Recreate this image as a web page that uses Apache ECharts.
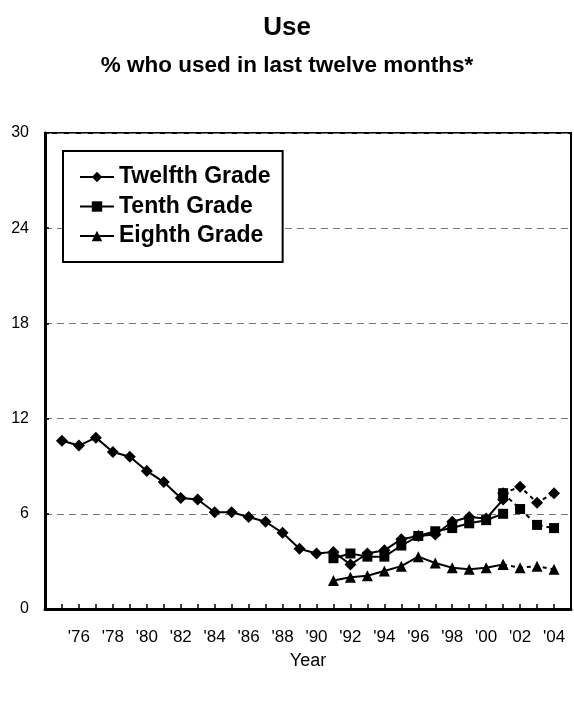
<!DOCTYPE html>
<html>
<head>
<meta charset="utf-8">
<script src="https://cdn.jsdelivr.net/npm/echarts@6/dist/echarts.min.js"></script>
<style>html,body{margin:0;padding:0;background:#fff}#c{width:574px;height:701px}</style>
</head>
<body>
<div id="c"></div>
<script>
const yearsMain = [1975,1976,1977,1978,1979,1980,1981,1982,1983,1984,1985,1986,1987,1988,1989,1990,1991,1992,1993,1994,1995,1996,1997,1998,1999,2000,2001];
const twelfthMain = [10.6,10.3,10.8,9.9,9.6,8.7,8.0,7.0,6.9,6.1,6.1,5.8,5.5,4.8,3.8,3.5,3.6,2.8,3.5,3.7,4.4,4.6,4.7,5.5,5.8,5.7,6.9];
const yearsLower = [1991,1992,1993,1994,1995,1996,1997,1998,1999,2000,2001];
const tenthMain = [3.2,3.5,3.3,3.3,4.0,4.6,4.9,5.1,5.4,5.6,6.0];
const eighthMain = [1.8,2.0,2.1,2.4,2.7,3.3,2.9,2.6,2.5,2.6,2.8];
const yearsRevised = [2001,2002,2003,2004];
const twelfthRevised = [7.3,7.7,6.7,7.3];
const tenthRevised = [7.3,6.3,5.3,5.1];
const eighthRevised = [2.8,2.6,2.7,2.5];
const yTicks = [0,6,12,18,24,30];

const pairs = (xs, ys) => xs.map((x, i) => [x, ys[i]]);
const chart = echarts.init(document.getElementById('c'));
const FONT = '"Liberation Sans", Arial, sans-serif';
function lineSeries(name, data, symbol, size, dashed) {
  return {
    name: name, type: 'line', data: data, symbol: symbol, symbolSize: size,
    lineStyle: {color: '#000', width: 2, type: dashed ? [4, 4] : 'solid'},
    itemStyle: {color: '#000'}, animation: false, z: dashed ? 3 : 4
  };
}
chart.setOption({
  animation: false,
  title: [
    {text: 'Use', left: 'center', top: 10, textStyle: {fontFamily: FONT, fontSize: 26, fontWeight: 'bold', color: '#000'}},
    {text: '% who used in last twelve months*', left: 'center', top: 49, textStyle: {fontFamily: FONT, fontSize: 22.5, fontWeight: 'bold', color: '#000'}}
  ],
  grid: {left: 45, right: 1, top: 133, bottom: 92, show: true, borderColor: '#000', borderWidth: 2},
  legend: {
    data: ['Twelfth Grade', 'Tenth Grade', 'Eighth Grade'],
    orient: 'vertical', left: 63, top: 151,
    itemWidth: 34, itemHeight: 13, itemGap: 5.5,
    padding: [14, 12, 14, 16],
    borderColor: '#000', borderWidth: 2, backgroundColor: '#fff',
    textStyle: {fontFamily: FONT, fontSize: 23, lineHeight: 24, fontWeight: 'bold', color: '#000'}
  },
  xAxis: {
    type: 'value', min: 1974, max: 2005, interval: 1,
    name: 'Year', nameLocation: 'middle', nameGap: 43,
    nameTextStyle: {fontFamily: FONT, fontSize: 18, color: '#000'},
    axisLine: {lineStyle: {color: '#000', width: 3}},
    axisTick: {inside: true, length: 5, lineStyle: {color: '#000', width: 1.5}},
    axisLabel: {
      fontFamily: FONT, fontSize: 17, color: '#000', margin: 20, showMinLabel: true, showMaxLabel: true,
      formatter: v => (v % 2 === 0 && v >= 1976 && v <= 2004) ? "'" + String(v).slice(2) : ''
    },
    splitLine: {show: false}
  },
  yAxis: {
    type: 'value', min: yTicks[0], max: yTicks[yTicks.length - 1], interval: 6,
    axisLine: {show: true, lineStyle: {color: '#000', width: 3}},
    axisTick: {show: true, inside: true, length: 4, lineStyle: {color: '#000', width: 1.5}},
    axisLabel: {fontFamily: FONT, fontSize: 16, color: '#000', margin: 16},
    splitLine: {show: true, lineStyle: {color: '#777', width: 1.2, type: [7, 5]}}
  },
  series: [
    lineSeries('Twelfth Grade', pairs(yearsMain, twelfthMain), 'diamond', 12, false),
    lineSeries('Tenth Grade', pairs(yearsLower, tenthMain), 'rect', 10, false),
    lineSeries('Eighth Grade', pairs(yearsLower, eighthMain), 'triangle', 11, false),
    lineSeries('Twelfth Grade (revised)', pairs(yearsRevised, twelfthRevised), 'diamond', 12, true),
    lineSeries('Tenth Grade (revised)', pairs(yearsRevised, tenthRevised), 'rect', 10, true),
    lineSeries('Eighth Grade (revised)', pairs(yearsRevised, eighthRevised), 'triangle', 11, true)
  ]
});
</script>
</body>
</html>
